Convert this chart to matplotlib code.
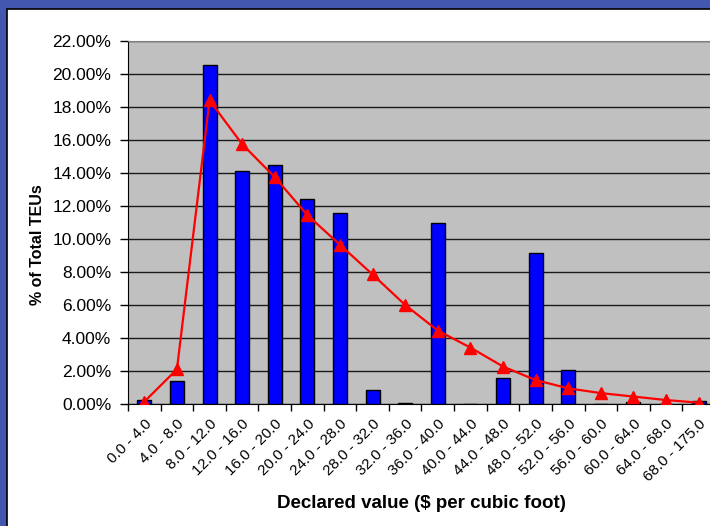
import numpy as np
import matplotlib.pyplot as plt
import matplotlib.transforms as mtransforms
from matplotlib.patches import Rectangle
from matplotlib.ticker import FuncFormatter, FixedLocator

plt.rcParams['font.family'] = ['Liberation Sans', 'DejaVu Sans']

bins = ['0.0 - 4.0', '4.0 - 8.0', '8.0 - 12.0', '12.0 - 16.0', '16.0 - 20.0',
        '20.0 - 24.0', '24.0 - 28.0', '28.0 - 32.0', '32.0 - 36.0', '36.0 - 40.0',
        '40.0 - 44.0', '44.0 - 48.0', '48.0 - 52.0', '52.0 - 56.0', '56.0 - 60.0',
        '60.0 - 64.0', '64.0 - 68.0', '68.0 - 175.0']
# observed share (bars) and fitted share (red line), in %
observed = [0.22, 1.42, 20.56, 14.12, 14.5, 12.44, 11.6, 0.85, 0.05, 11.0,
            0.0, 1.58, 9.17, 2.08, 0.0, 0.12, 0.0, 0.18]
fitted = [0.14, 2.1, 18.4, 15.75, 13.75, 11.45, 9.65, 7.85, 6.0, 4.45,
          3.42, 2.27, 1.45, 0.95, 0.66, 0.45, 0.24, 0.08]

fig = plt.figure(figsize=(7.1, 5.26), dpi=100)
fig.patch.set_facecolor('#4257ad')
# white chart panel sitting on the slide background
panel = Rectangle((7/710, -0.01), 1, 1.01 - 9/526, transform=fig.transFigure,
                  facecolor='white', edgecolor='black', lw=1.2, zorder=-10)
fig.add_artist(panel)

ax = fig.add_axes([128/710, 1 - 404/526, 587/710, 363/526])
ax.set_facecolor('#c0c0c0')
x = np.arange(len(bins))

ax.bar(x, observed, width=0.43, color='#0000ff', edgecolor='black', lw=1, zorder=3)
ax.plot(x, fitted, color='#ff0000', lw=1.6, marker='^', markersize=8, zorder=4)

ax.set_xlim(-0.5, len(bins) - 0.5)
ax.set_ylim(0, 22)
ax.set_yticks(np.arange(0, 22.1, 2))
ax.yaxis.set_major_formatter(FuncFormatter(lambda v, p: '%.2f%%' % v))
ax.yaxis.grid(True, color='#1a1a1a', lw=1)
ax.set_axisbelow(True)

ax.set_xticks(x)
ax.set_xticklabels(bins, rotation=45, ha='right', va='top', rotation_mode='anchor', fontsize=11)
shift = mtransforms.ScaledTranslation(-6/100, -3/100, fig.dpi_scale_trans)
for lbl in ax.get_xticklabels():
    lbl.set_transform(lbl.get_transform() + shift)
ax.xaxis.set_minor_locator(FixedLocator(np.arange(-0.5, len(bins), 1)))
ax.tick_params(axis='x', which='major', length=0, pad=9)
ax.tick_params(axis='x', which='minor', length=5, width=1, color='black')
ax.tick_params(axis='y', length=6, width=1, pad=6, labelsize=12.5)

ax.spines['right'].set_visible(False)
ax.spines['top'].set_color('#808080')
ax.spines['left'].set_color('black')
ax.spines['bottom'].set_color('black')

ax.set_ylabel('% of Total TEUs', fontsize=11.5, fontweight='bold')
ax.yaxis.set_label_coords(-0.141, 0.44)
ax.set_xlabel('Declared value ($ per cubic foot)', fontsize=13.5, fontweight='bold', labelpad=8)

fig.savefig('out.png', dpi=100, facecolor=fig.get_facecolor())
